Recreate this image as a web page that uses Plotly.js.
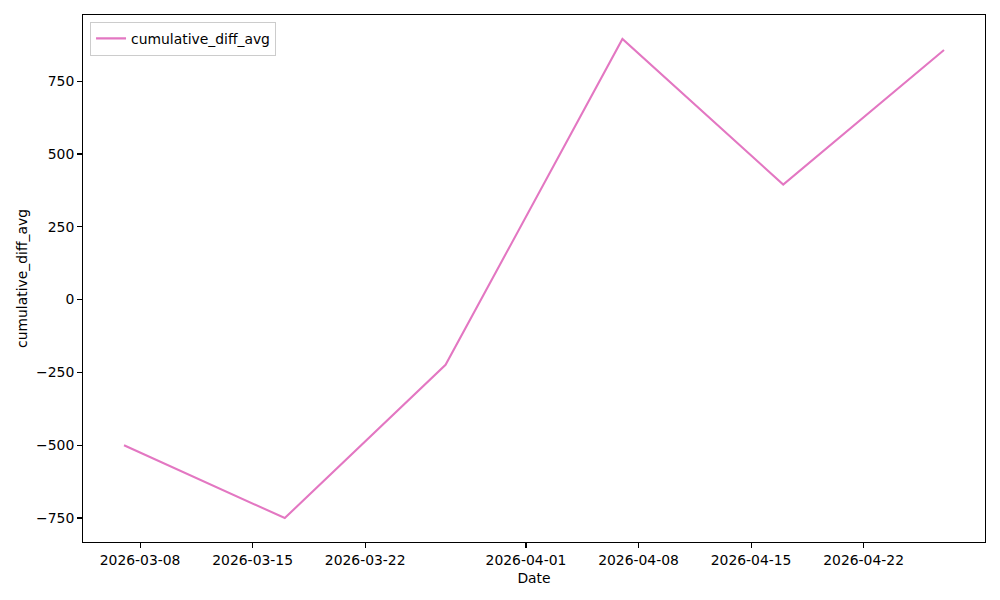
<!DOCTYPE html>
<html>
<head>
<meta charset="utf-8">
<script src="https://cdn.plot.ly/plotly-3.0.1.min.js"></script>
<style>body{margin:0;padding:0;background:#fff;}#chart{width:1000px;height:600px;}</style>
</head>
<body>
<div id="chart"></div>
<script>
const dates = ["2026-03-07", "2026-03-17", "2026-03-27", "2026-04-07", "2026-04-17", "2026-04-27"];
const cumulativeDiffAvg = [-500, -750, -224, 895, 395, 857];
const xTickVals = ["2026-03-08", "2026-03-15", "2026-03-22", "2026-04-01", "2026-04-08", "2026-04-15", "2026-04-22"];
const yTickVals = [-750, -500, -250, 0, 250, 500, 750];

// matplotlib-style 5% margins
const t0 = new Date(dates[0] + "T00:00:00Z").getTime();
const t1 = new Date(dates[dates.length - 1] + "T00:00:00Z").getTime();
const padX = (t1 - t0) * 0.05;
const fmt = ms => new Date(ms).toISOString().replace("T", " ").replace("Z", "");
const yMin = Math.min(...cumulativeDiffAvg), yMax = Math.max(...cumulativeDiffAvg);
const padY = (yMax - yMin) * 0.05;

const font = {family: "DejaVu Sans, sans-serif", size: 13.9, color: "#000"};

Plotly.newPlot("chart", [{
  x: dates,
  y: cumulativeDiffAvg,
  type: "scatter",
  mode: "lines",
  name: "cumulative_diff_avg",
  line: {color: "#e377c2", width: 2.08}
}], {
  width: 1000, height: 600,
  margin: {l: 83, r: 15, t: 15, b: 58},
  paper_bgcolor: "#fff", plot_bgcolor: "#fff",
  font: font,
  showlegend: true,
  legend: {
    x: 0.0078, y: 0.987, xanchor: "left", yanchor: "top",
    bgcolor: "rgba(255,255,255,0.8)", bordercolor: "#cccccc", borderwidth: 1,
    font: font, itemwidth: 30
  },
  xaxis: {
    type: "date",
    range: [fmt(t0 - padX), fmt(t1 + padX)],
    tickmode: "array", tickvals: xTickVals, ticktext: xTickVals,
    ticks: "outside", ticklen: 4.9, tickwidth: 1.1, tickcolor: "#000",
    showgrid: false, zeroline: false,
    showline: true, mirror: true, linecolor: "#000", linewidth: 1.1,
    tickfont: font,
    title: {text: "Date", font: font, standoff: 6},
    automargin: false
  },
  yaxis: {
    range: [yMin - padY, yMax + padY],
    tickmode: "array", tickvals: yTickVals,
    ticks: "outside", ticklen: 4.9, tickwidth: 1.1, tickcolor: "#000",
    showgrid: false, zeroline: false,
    showline: true, mirror: true, linecolor: "#000", linewidth: 1.1,
    tickfont: font,
    title: {text: "cumulative_diff_avg", font: font, standoff: 5},
    automargin: false
  }
}, {displayModeBar: false, staticPlot: true});
</script>
</body>
</html>
